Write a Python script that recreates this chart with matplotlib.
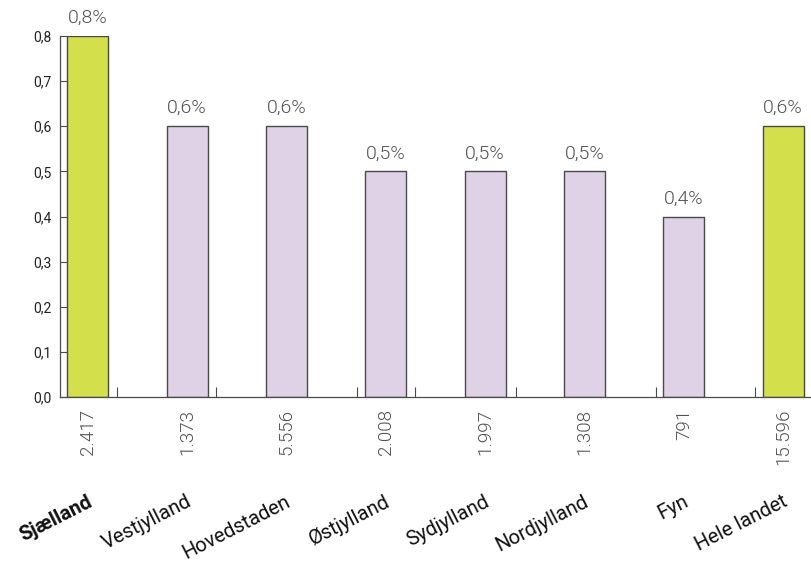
import matplotlib
matplotlib.use("Agg")
import matplotlib.pyplot as plt
from matplotlib.ticker import FixedLocator

plt.rcParams["font.family"] = ["Roboto", "DejaVu Sans"]

regions = ["Sjælland", "Vestjylland", "Hovedstaden", "Østjylland",
           "Sydjylland", "Nordjylland", "Fyn", "Hele landet"]
shares = [0.8, 0.6, 0.6, 0.5, 0.5, 0.5, 0.4, 0.6]
counts = ["2.417", "1.373", "5.556", "2.008", "1.997", "1.308", "791", "15.596"]
highlight = ["Sjælland", "Hele landet"]
y_ticks = [0.0, 0.1, 0.2, 0.3, 0.4, 0.5, 0.6, 0.7, 0.8]
y_tick_labels = ["0,0", "0,1", "0,2", "0,3", "0,4", "0,5", "0,6", "0,7", "0,8"]

GREEN = "#d4e04b"
LILAC = "#dfd1e6"
EDGE = "#4a4a4a"
TEXT = "#505050"

fig = plt.figure(figsize=(8.12, 5.62), dpi=100)
ax = fig.add_axes([60 / 812, 165 / 562, 1 - 60 / 812, 361 / 562])

x = list(range(len(regions)))
colors = [GREEN if r in highlight else LILAC for r in regions]
ax.bar(x, shares, width=0.41, color=colors, edgecolor=EDGE, linewidth=1.0, zorder=2)

# share labels above the bars
for xi, v in zip(x, shares):
    ax.annotate(f"{v:.1f}%".replace(".", ","), xy=(xi, v),
                xytext=(0, 6.5), textcoords="offset points",
                ha="center", va="bottom", fontsize=14, color=TEXT, fontweight=300)

ax.set_xlim(-0.28, 7.29)
ax.set_ylim(0, 0.8)

ax.set_yticks(y_ticks)
ax.set_yticklabels(y_tick_labels, fontsize=10, color="#222222")
ax.tick_params(axis="y", direction="in", length=7, width=0.8, color=EDGE, pad=6)

# small separators along the baseline
ax.xaxis.set_major_locator(FixedLocator([0.29, 1.29, 2.71, 3.29, 4.31, 5.72, 6.72]))
ax.set_xticklabels([])
ax.tick_params(axis="x", direction="in", length=7, width=0.8, color=EDGE)

for side in ["top", "right"]:
    ax.spines[side].set_visible(False)
for side in ["left", "bottom"]:
    ax.spines[side].set_color(EDGE)
    ax.spines[side].set_linewidth(0.9)

# counts under each bar
for xi, c in zip(x, counts):
    ax.annotate(c, xy=(xi, 0), xycoords=("data", "axes fraction"),
                xytext=(0, -8.5), textcoords="offset points",
                rotation=90, ha="center", va="top",
                fontsize=13.5, color=TEXT, fontweight=300)

# region names
for xi, r in zip(x, regions):
    ax.annotate(r, xy=(xi, 0), xycoords=("data", "axes fraction"),
                xytext=(4, -78), textcoords="offset points",
                rotation=27, ha="right", va="baseline", rotation_mode="anchor",
                fontsize=14.5, color="#111111",
                fontweight="bold" if r == "Sjælland" else "normal")

fig.savefig("out.png", dpi=100)
